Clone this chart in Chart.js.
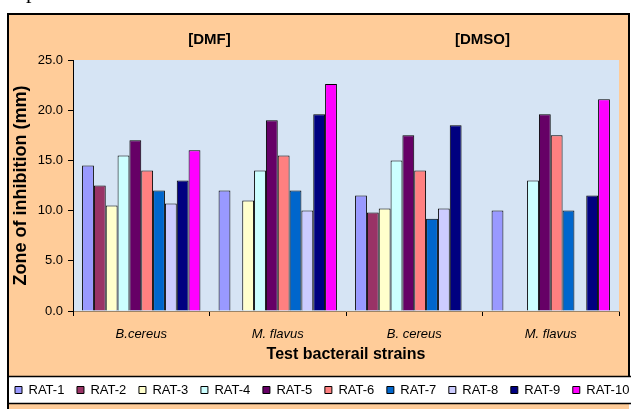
<!DOCTYPE html>
<html>
<head>
<meta charset="utf-8">
<script src="https://cdn.jsdelivr.net/npm/chart.js@4.4.1/dist/chart.umd.min.js"></script>
<style>
  html, body { margin: 0; padding: 0; background: #fff; overflow: hidden; width: 631px; height: 409px; }
  #myChart { position: absolute; left: 0; top: 0; }
  #cut { position: absolute; left: 26px; top: -20px; font: 22px/22px "Liberation Serif", "Times New Roman", serif; color: #000; }
</style>
</head>
<body>
<canvas id="myChart" width="700" height="410"></canvas>
<div id="cut">pounds.</div>
<script>
const categories = ["B.cereus", "M. flavus", "B. cereus", "M. flavus"];
const groups = ["[DMF]", "[DMSO]"];
const seriesNames = ["RAT-1", "RAT-2", "RAT-3", "RAT-4", "RAT-5", "RAT-6", "RAT-7", "RAT-8", "RAT-9", "RAT-10"];
const seriesColors = ["#9999FF", "#993366", "#FFFFCC", "#CCFFFF", "#660066", "#FF8080", "#0066CC", "#CCCCFF", "#000080", "#FF00FF"];

const rat1 = [14.5, 12.0, 11.5, 10.0];
const rat2 = [12.5, null, 9.8, null];
const rat3 = [10.5, 11.0, 10.2, null];
const rat4 = [15.5, 14.0, 15.0, 13.0];
const rat5 = [17.0, 19.0, 17.5, 19.6];
const rat6 = [14.0, 15.5, 14.0, 17.5];
const rat7 = [12.0, 12.0, 9.2, 10.0];
const rat8 = [10.7, 10.0, 10.2, null];
const rat9 = [13.0, 19.6, 18.5, 11.5];
const rat10 = [16.0, 22.6, null, 21.1];

const seriesValues = [rat1, rat2, rat3, rat4, rat5, rat6, rat7, rat8, rat9, rat10];

const FONT = "'Liberation Sans', Arial, sans-serif";

// orange frame, plot background and the white legend strip
const backdrop = {
  id: "backdrop",
  beforeDraw(chart) {
    const { ctx, chartArea, width, height } = chart;
    ctx.save();
    ctx.fillStyle = "#fff";
    ctx.fillRect(0, 0, width, height);
    ctx.fillStyle = "#FFCC99";
    ctx.fillRect(8, 14, 621, height);
    ctx.fillStyle = "#D6E4F4";
    ctx.fillRect(chartArea.left, chartArea.top, chartArea.right - chartArea.left, chartArea.bottom - chartArea.top);
    // legend strip
    ctx.fillStyle = "#fff";
    ctx.fillRect(8, 376, width, 28);
    ctx.strokeStyle = "#000";
    ctx.lineWidth = 2;
    ctx.beginPath();
    ctx.moveTo(8, height);
    ctx.lineTo(8, 14);
    ctx.lineTo(629, 14);
    ctx.lineTo(629, 376);
    ctx.stroke();
    ctx.lineWidth = 1.5;
    ctx.beginPath();
    ctx.moveTo(8, 376.5);
    ctx.lineTo(width, 376.5);
    ctx.moveTo(8, 403.5);
    ctx.lineTo(width, 403.5);
    ctx.stroke();
    ctx.restore();
  },
  afterDraw(chart) {
    const { ctx, chartArea } = chart;
    const x = chart.scales.x;
    ctx.save();
    ctx.fillStyle = "#000";
    ctx.font = "bold 15px " + FONT;
    ctx.textAlign = "center";
    ctx.textBaseline = "middle";
    groups.forEach((g, i) => {
      const cx = (x.getPixelForValue(i * 2) + x.getPixelForValue(i * 2 + 1)) / 2;
      ctx.fillText(g, cx, chartArea.top - 20);
    });
    ctx.restore();
  }
};

const setupChart = () => {
  const ctx = document.getElementById("myChart");

  const data = {
    labels: categories,
    datasets: seriesNames.map((name, i) => ({
      label: name,
      data: seriesValues[i],
      backgroundColor: seriesColors[i],
      borderColor: "#000",
      borderWidth: 1,
      categoryPercentage: 0.867,
      barPercentage: 1.0,
    })),
  };

  return new Chart(ctx, {
    type: "bar",
    data: data,
    plugins: [backdrop],
    options: {
      responsive: false,
      animation: false,
      layout: { padding: { left: 2.4, right: 0, top: 60, bottom: 3.5 } },
      plugins: {
        tooltip: { enabled: false },
        legend: {
          position: "bottom",
          align: "start",
          labels: {
            boxWidth: 7,
            boxHeight: 7,
            padding: 12.6,
            color: "#000",
            font: { family: FONT, size: 13 },
          },
        },
      },
      scales: {
        x: {
          grid: { display: true, drawOnChartArea: false, tickLength: 5, color: "#000" },
          border: { display: true, color: "#9c8466", width: 1 },
          ticks: { color: "#000", padding: 11, font: { family: FONT, size: 13, style: "italic" } },
          title: {
            display: true,
            text: "Test bacterail strains",
            color: "#000",
            padding: { top: 0, bottom: 6.3 },
            font: { family: FONT, size: 16, weight: "bold" },
          },
          afterFit: (s) => { s.height = 59.9; },
        },
        y: {
          min: 0,
          max: 25,
          grid: { display: true, drawOnChartArea: false, tickLength: 5, color: "#000" },
          border: { display: true, color: "#000", width: 1 },
          ticks: {
            stepSize: 5,
            color: "#000",
            padding: 5,
            font: { family: FONT, size: 13 },
            callback: (v) => v.toFixed(1),
          },
          title: {
            display: true,
            text: "Zone of inhibition (mm)",
            color: "#000",
            padding: { top: 8.3, bottom: 0 },
            font: { family: FONT, size: 18, weight: "bold" },
          },
          afterFit: (s) => { s.width = 70.6; },
        },
        yR: {
          type: "linear",
          position: "right",
          display: true,
          grid: { display: false },
          border: { display: false },
          ticks: { display: false },
          afterFit: (s) => { s.width = 81; },
        },
      },
    },
  });
};

Promise.all([
  document.fonts.load("13px 'Liberation Sans'"),
  document.fonts.load("italic 13px 'Liberation Sans'"),
  document.fonts.load("bold 16px 'Liberation Sans'"),
]).catch(() => {}).then(setupChart);
</script>
</body>
</html>
